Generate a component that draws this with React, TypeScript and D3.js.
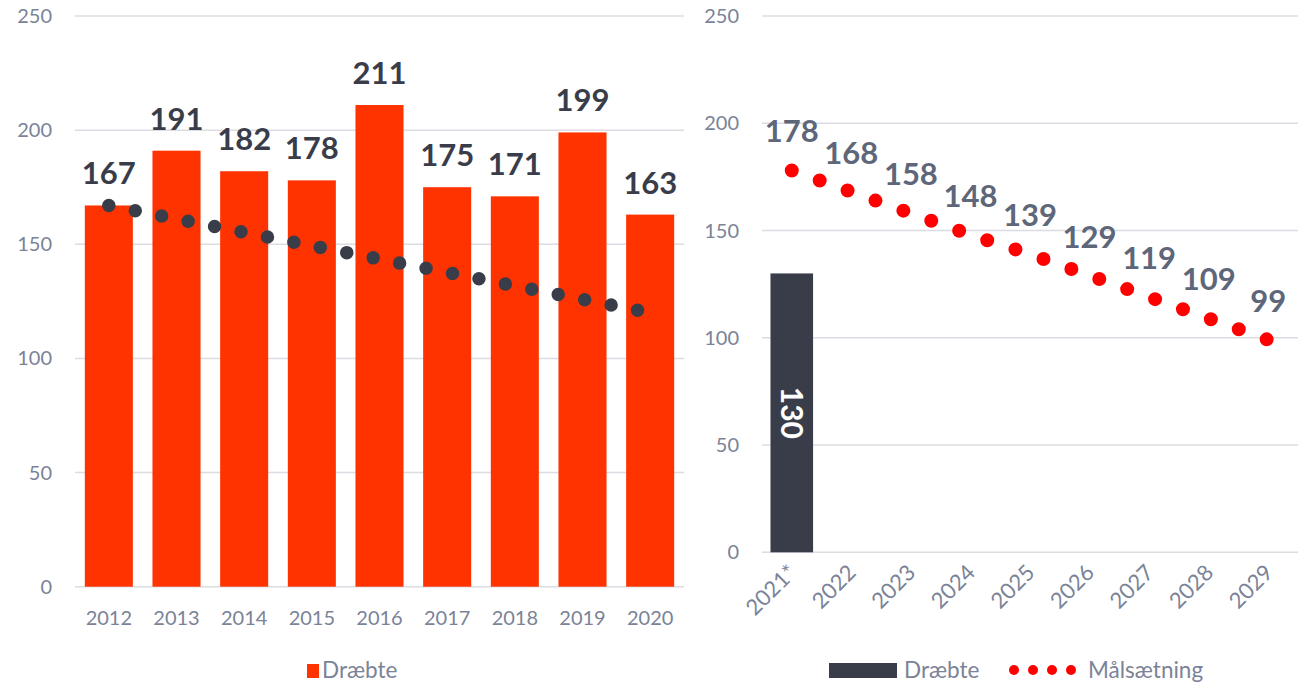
import React, { useEffect, useRef } from "react";
import * as d3 from "d3";

// venstre graf: dræbte 2012-2020
const yearsLeft = ["2012", "2013", "2014", "2015", "2016", "2017", "2018", "2019", "2020"];
const killedLeft = [167, 191, 182, 178, 211, 175, 171, 199, 163];
const trendYears = ["2012", "2020"];
const trendValues = [167, 120];

// højre graf: målsætning 2021-2029
const yearsRight = ["2021*", "2022", "2023", "2024", "2025", "2026", "2027", "2028", "2029"];
const killedRight = [130];
const targetValues = [178, 168, 158, 148, 139, 129, 119, 109, 99];

const yTicks = [0, 50, 100, 150, 200, 250];

const FONT = "Lato, 'Open Sans', sans-serif";
const AXIS_COLOR = "#7a8397";
const GRID_COLOR = "#dcdce3";

export default function App() {
  const svgRef = useRef<SVGSVGElement>(null);

  useEffect(() => {
    const svg = d3.select(svgRef.current);
    svg.selectAll("*").remove();

    // ===== VENSTRE =====
    const xL = d3.scaleBand().domain(yearsLeft).range([75, 684]).paddingInner(0.29).paddingOuter(0.145);
    const yL = d3.scaleLinear().domain([0, 250]).range([586.7, 16]);
    const gL = svg.append("g");

    gL.selectAll("line.grid")
      .data(yTicks)
      .enter()
      .append("line")
      .attr("x1", 75)
      .attr("x2", 684)
      .attr("y1", d => yL(d))
      .attr("y2", d => yL(d))
      .attr("stroke", GRID_COLOR)
      .attr("stroke-width", 1.5);

    gL.selectAll("text.ytick")
      .data(yTicks)
      .enter()
      .append("text")
      .attr("x", 52)
      .attr("y", d => yL(d))
      .attr("dy", "0.35em")
      .attr("text-anchor", "end")
      .attr("font-family", FONT)
      .attr("font-size", 20)
      .attr("fill", AXIS_COLOR)
      .text(d => d);

    gL.selectAll("rect.bar")
      .data(killedLeft)
      .enter()
      .append("rect")
      .attr("x", (d, i) => xL(yearsLeft[i])!)
      .attr("width", xL.bandwidth())
      .attr("y", d => yL(d))
      .attr("height", d => yL(0) - yL(d))
      .attr("fill", "#ff3300");

    gL.selectAll("text.xtick")
      .data(yearsLeft)
      .enter()
      .append("text")
      .attr("x", d => xL(d)! + xL.bandwidth() / 2)
      .attr("y", 625)
      .attr("text-anchor", "middle")
      .attr("font-family", FONT)
      .attr("font-size", 20)
      .attr("fill", AXIS_COLOR)
      .text(d => d);

    // trendlinje (prikket)
    const trendLine = d3.line<number>()
      .x((d, i) => xL(trendYears[i])! + xL.bandwidth() / 2)
      .y(d => yL(d));
    gL.append("path")
      .datum(trendValues)
      .attr("d", trendLine)
      .attr("fill", "none")
      .attr("stroke", "#393d49")
      .attr("stroke-width", 13.5)
      .attr("stroke-linecap", "round")
      .attr("stroke-dasharray", "0 26.95");

    gL.selectAll("text.val")
      .data(killedLeft)
      .enter()
      .append("text")
      .attr("x", (d, i) => xL(yearsLeft[i])! + xL.bandwidth() / 2)
      .attr("y", d => yL(d) - 21)
      .attr("text-anchor", "middle")
      .attr("font-family", FONT)
      .attr("font-weight", 700)
      .attr("font-size", 31)
      .attr("fill", "#393d49")
      .text(d => d);

    // legend venstre
    gL.append("rect").attr("x", 307).attr("y", 664).attr("width", 12).attr("height", 14).attr("fill", "#ff3300");
    gL.append("text")
      .attr("x", 322)
      .attr("y", 678)
      .attr("font-family", FONT)
      .attr("font-size", 22.5)
      .attr("fill", AXIS_COLOR)
      .text("Dræbte");

    // ===== HØJRE =====
    const xR = d3.scaleBand().domain(yearsRight).range([762, 1298]).paddingInner(0.285).paddingOuter(0.1425);
    const yR = d3.scaleLinear().domain([0, 250]).range([552.3, 16]);
    const gR = svg.append("g");

    gR.selectAll("line.grid")
      .data(yTicks)
      .enter()
      .append("line")
      .attr("x1", 762)
      .attr("x2", 1298)
      .attr("y1", d => yR(d))
      .attr("y2", d => yR(d))
      .attr("stroke", GRID_COLOR)
      .attr("stroke-width", 1.5);

    gR.selectAll("text.ytick")
      .data(yTicks)
      .enter()
      .append("text")
      .attr("x", 739)
      .attr("y", d => yR(d))
      .attr("dy", "0.35em")
      .attr("text-anchor", "end")
      .attr("font-family", FONT)
      .attr("font-size", 20)
      .attr("fill", AXIS_COLOR)
      .text(d => d);

    gR.selectAll("rect.bar")
      .data(killedRight)
      .enter()
      .append("rect")
      .attr("x", (d, i) => xR(yearsRight[i])!)
      .attr("width", xR.bandwidth())
      .attr("y", d => yR(d))
      .attr("height", d => yR(0) - yR(d))
      .attr("fill", "#393d49");

    gR.selectAll("text.barval")
      .data(killedRight)
      .enter()
      .append("text")
      .attr("transform", (d, i) => `translate(${xR(yearsRight[i])! + xR.bandwidth() / 2},${(yR(d) + yR(0)) / 2}) rotate(90)`)
      .attr("dy", "0.35em")
      .attr("text-anchor", "middle")
      .attr("font-family", FONT)
      .attr("font-weight", 700)
      .attr("font-size", 30)
      .attr("fill", "#ffffff")
      .text(d => d);

    gR.selectAll("text.xtick")
      .data(yearsRight)
      .enter()
      .append("text")
      .attr("transform", d => `translate(${xR(d)! + xR.bandwidth() / 2 + 6},${574}) rotate(-45)`)
      .attr("text-anchor", "end")
      .attr("font-family", FONT)
      .attr("font-size", 22)
      .attr("fill", AXIS_COLOR)
      .text(d => d);

    const targetLine = d3.line<number>()
      .x((d, i) => xR(yearsRight[i])! + xR.bandwidth() / 2)
      .y(d => yR(d));
    gR.append("path")
      .datum(targetValues)
      .attr("d", targetLine)
      .attr("fill", "none")
      .attr("stroke", "#ff0000")
      .attr("stroke-width", 14)
      .attr("stroke-linecap", "round")
      .attr("stroke-dasharray", "0 29.65");

    gR.selectAll("text.val")
      .data(targetValues)
      .enter()
      .append("text")
      .attr("x", (d, i) => xR(yearsRight[i])! + xR.bandwidth() / 2)
      .attr("y", d => yR(d) - 28)
      .attr("text-anchor", "middle")
      .attr("font-family", FONT)
      .attr("font-weight", 700)
      .attr("font-size", 31)
      .attr("fill", "#5e6679")
      .text(d => d);

    // legend højre
    gR.append("rect").attr("x", 829).attr("y", 663).attr("width", 68).attr("height", 15).attr("fill", "#393d49");
    gR.append("text")
      .attr("x", 904)
      .attr("y", 678)
      .attr("font-family", FONT)
      .attr("font-size", 22.5)
      .attr("fill", AXIS_COLOR)
      .text("Dræbte");
    gR.selectAll("circle.leg")
      .data([0, 1, 2, 3])
      .enter()
      .append("circle")
      .attr("cx", d => 1014 + d * 19)
      .attr("cy", 670)
      .attr("r", 5)
      .attr("fill", "#ff0000");
    gR.append("text")
      .attr("x", 1088)
      .attr("y", 678)
      .attr("font-family", FONT)
      .attr("font-size", 22.5)
      .attr("fill", AXIS_COLOR)
      .text("Målsætning");
  }, []);

  return (
    <svg
      ref={svgRef}
      width={1307}
      height={682}
      style={{ position: "absolute", left: 0, top: 0, background: "#fff" }}
    />
  );
}
